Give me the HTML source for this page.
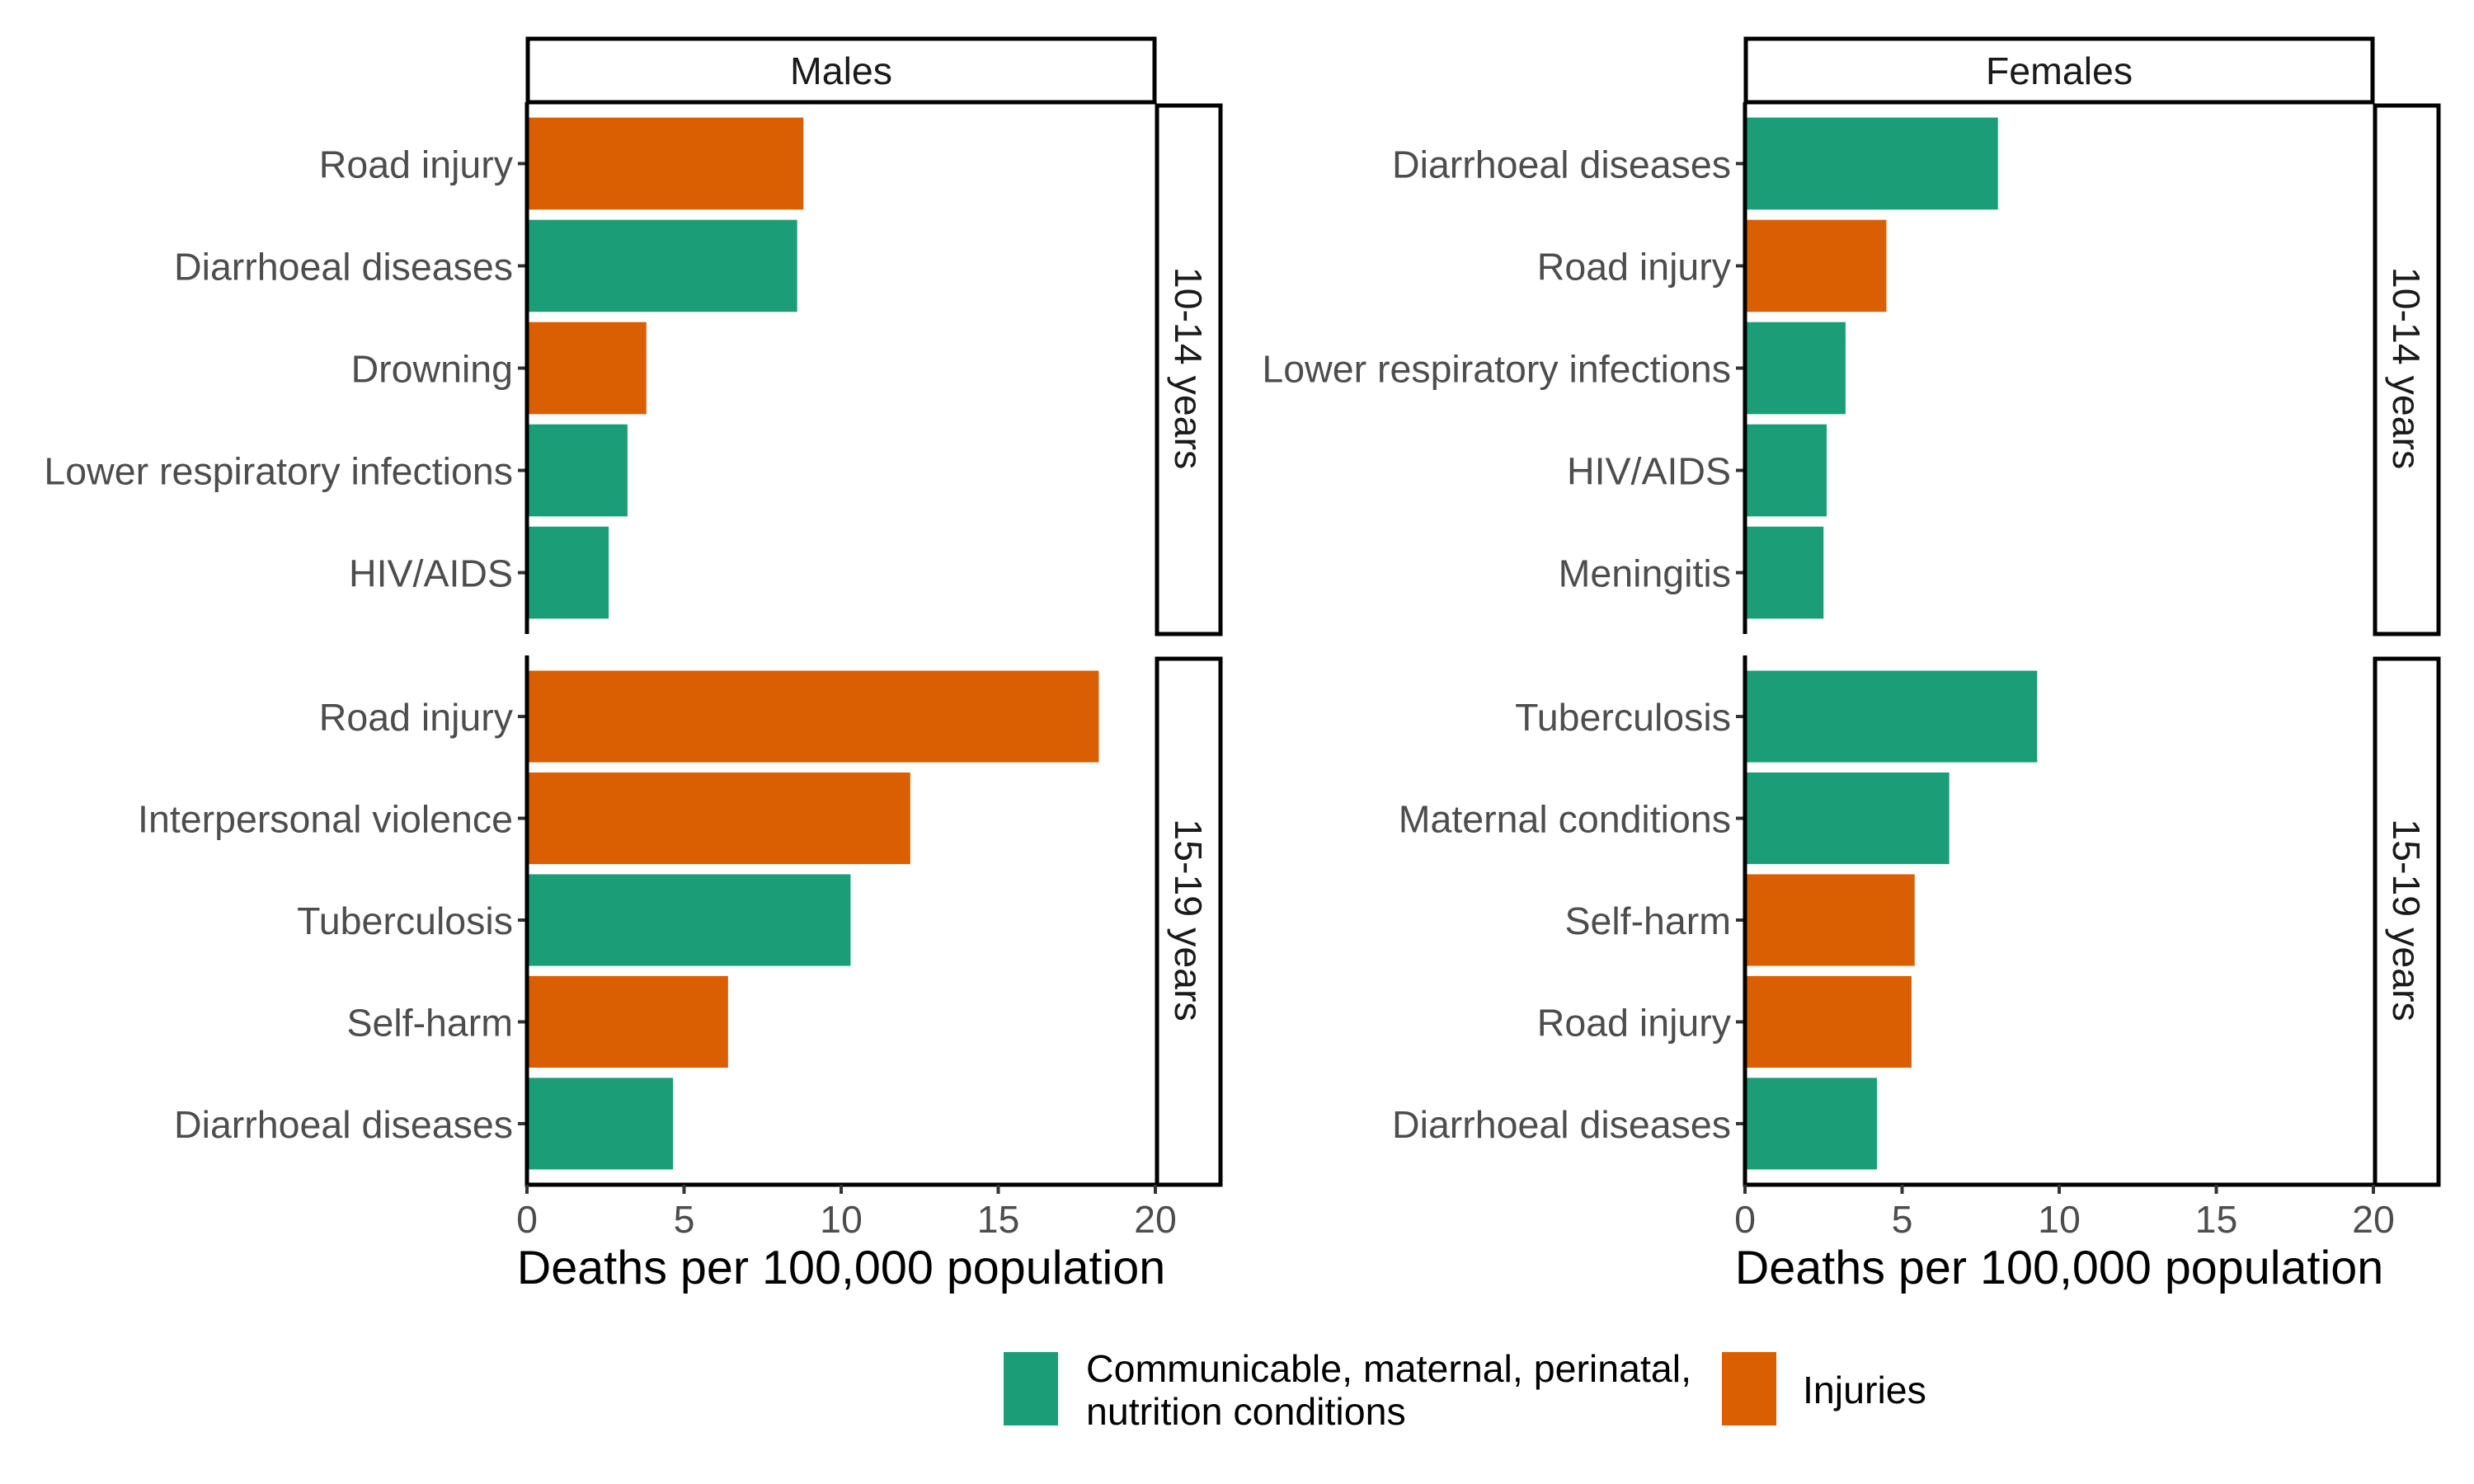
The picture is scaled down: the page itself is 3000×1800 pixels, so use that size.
<!DOCTYPE html>
<html><head><meta charset="utf-8"><style>
html,body{margin:0;padding:0;background:#fff}
svg{display:block;font-family:"Liberation Sans",sans-serif}
</style></head><body>
<svg id="chart" width="3000" height="1800" viewBox="0 0 3000 1800"></svg>
<script>
const maleTopCats=["Road injury","Diarrhoeal diseases","Drowning","Lower respiratory infections","HIV/AIDS"];
const maleTopVals=[8.8,8.6,3.8,3.2,2.6];
const maleTopType=["inj","com","inj","com","com"];
const maleBotCats=["Road injury","Interpersonal violence","Tuberculosis","Self-harm","Diarrhoeal diseases"];
const maleBotVals=[18.2,12.2,10.3,6.4,4.65];
const maleBotType=["inj","inj","com","inj","com"];
const femTopCats=["Diarrhoeal diseases","Road injury","Lower respiratory infections","HIV/AIDS","Meningitis"];
const femTopVals=[8.05,4.5,3.2,2.6,2.5];
const femTopType=["com","inj","com","com","com"];
const femBotCats=["Tuberculosis","Maternal conditions","Self-harm","Road injury","Diarrhoeal diseases"];
const femBotVals=[9.3,6.5,5.4,5.3,4.2];
const femBotType=["com","com","inj","inj","com"];
const xTicks=[0,5,10,15,20];
const colors={com:"#1B9E77",inj:"#D95F02"};

const svg=document.getElementById('chart');
const NS="http://www.w3.org/2000/svg";
function mk(tag,attrs,parent){const e=document.createElementNS(NS,tag);for(const k in attrs)e.setAttribute(k,attrs[k]);(parent||svg).appendChild(e);return e;}

function panel(x0,y0,h,cats,vals,types,name,showX){
  const unit=38.1;
  const xs=v=>x0+v*unit;
  const step=h/5.2;
  const ys=i=>y0+(0.6+i)*step;
  const g=mk('g',{});
  
  
  cats.forEach((c,i)=>{
    const r=mk('rect',{x:xs(0),y:ys(i)-step*0.45,width:xs(vals[i])-xs(0),height:step*0.9,fill:colors[types[i]]},g);
    
    
    mk('line',{x1:xs(0)-11,x2:xs(0),y1:ys(i),y2:ys(i),stroke:'#333',"stroke-width":4},g);
    const t=mk('text',{x:xs(0)-17,y:ys(i)+17,"text-anchor":"end","font-size":46.5,fill:'#4D4D4D'},g);
    t.textContent=c;
    
    
  });
  mk('line',{x1:x0,x2:x0,y1:y0,y2:y0+h,stroke:'#000',"stroke-width":5},g);
  if(showX){
    mk('line',{x1:x0-2.5,x2:xs(20)+2,y1:y0+h,y2:y0+h,stroke:'#000',"stroke-width":5},g);
    xTicks.forEach(v=>{
      mk('line',{x1:xs(v),x2:xs(v),y1:y0+h,y2:y0+h+11,stroke:'#333',"stroke-width":4},g);
      const t=mk('text',{x:xs(v),y:y0+h+58,"text-anchor":"middle","font-size":46.5,fill:'#4D4D4D'},g);
      t.textContent=v;
      
      
    });
  }
}
function strips(x0,title,tn){
  const s=mk('rect',{x:x0+1,y:47,width:760,height:77,fill:'#fff',stroke:'#000',"stroke-width":5});
  
  
  const t=mk('text',{x:x0+381,y:102,"text-anchor":"middle","font-size":46.5,fill:'#1a1a1a'});
  t.textContent=title;
  
  
  [[124,769,"10-14 years"],[795,1437,"15-19 years"]].forEach(([a,b,l])=>{
    const r=mk('rect',{x:x0+764,y:a+4,width:77,height:b-a-4,fill:'#fff',stroke:'#000',"stroke-width":5});
    
    
    const cx=x0+802,cy=(a+b)/2;
    const tt=mk('text',{x:cx,y:cy,"text-anchor":"middle","font-size":46.5,fill:'#1a1a1a',transform:`rotate(90 ${cx} ${cy}) translate(0 16)`});
    tt.textContent=l;
    
    
  });
  const at=mk('text',{x:x0+381,y:1557,"text-anchor":"middle","font-size":57.5,fill:'#000'});
  at.textContent="Deaths per 100,000 population";
  
  
}
strips(639,"Males","males");
strips(2116,"Females","females");
panel(639,124,645,maleTopCats,maleTopVals,maleTopType,'males-10-14-panel',false);
panel(639,795,642,maleBotCats,maleBotVals,maleBotType,'males-15-19-panel',true);
panel(2116,124,645,femTopCats,femTopVals,femTopType,'females-10-14-panel',false);
panel(2116,795,642,femBotCats,femBotVals,femBotType,'females-15-19-panel',true);
</script>
<svg style="position:absolute;left:0;top:0" width="3000" height="1800">
  <rect x="1217" y="1640" width="66" height="89" fill="#1B9E77"/>
  <text x="1317" y="1676" font-size="46.5" fill="#000" font-family="Liberation Sans, sans-serif">Communicable, maternal, perinatal,</text>
  <text x="1317" y="1728" font-size="46.5" fill="#000" font-family="Liberation Sans, sans-serif">nutrition conditions</text>
  <rect x="2088" y="1640" width="66" height="89" fill="#D95F02"/>
  <text x="2186" y="1702" font-size="46.5" fill="#000" font-family="Liberation Sans, sans-serif">Injuries</text>
</svg>
</body></html>
